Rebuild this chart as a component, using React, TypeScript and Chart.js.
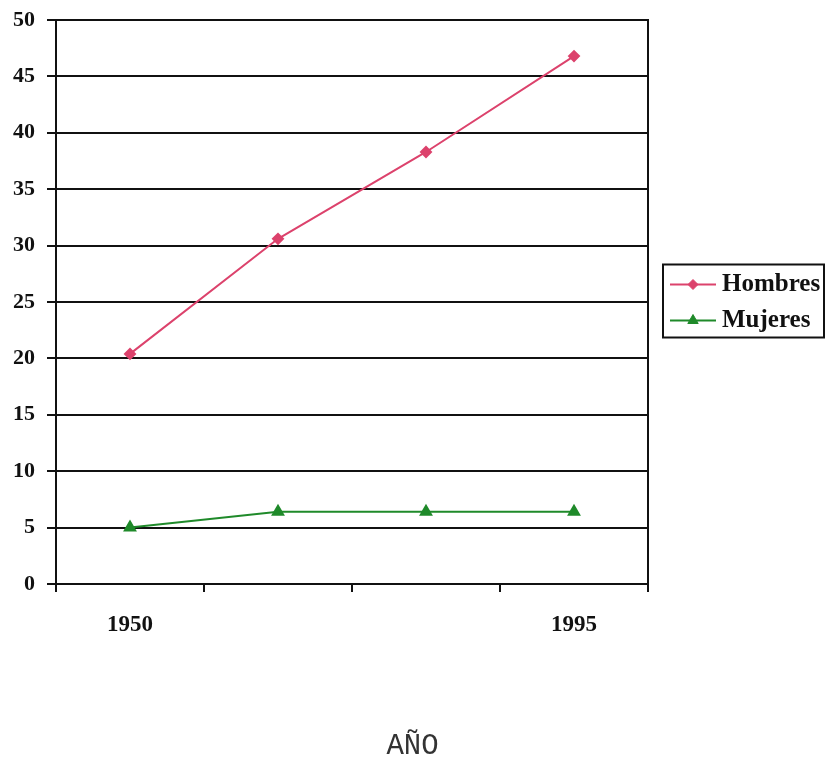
import React, { useEffect, useRef } from 'react';
import { Chart, registerables } from 'chart.js';
import { drawPoint } from 'chart.js/helpers';

Chart.register(...registerables);

// Year labels along the x axis (only the end years are printed)
const years: string[] = ['1950', '', '', '1995'];
// Series values
const hombres: number[] = [20.4, 30.6, 38.3, 46.8];
const mujeres: number[] = [5.0, 6.4, 6.4, 6.4];
// Value axis range
const yMin = 0;
const yMax = 50;
const yStep = 5;

const HOMBRES_COLOR = '#dc426c';
const MUJERES_COLOR = '#1f8a2a';
const INK = '#111111';
const SERIF = '"Liberation Serif", "Times New Roman", serif';

// Right edge of the plot frame
const framePlugin = {
  id: 'frame',
  beforeDatasetsDraw(chart: any) {
    const { ctx, chartArea } = chart;
    ctx.save();
    ctx.strokeStyle = INK;
    ctx.lineWidth = 2;
    ctx.beginPath();
    ctx.moveTo(chartArea.right, chartArea.top - 1);
    ctx.lineTo(chartArea.right, chartArea.bottom);
    ctx.stroke();
    ctx.restore();
  },
};

// Boxed legend to the right of the plot, line + marker per series
const boxedLegend = {
  id: 'boxedLegend',
  afterDraw(chart: any) {
    const { ctx, chartArea } = chart;
    const left = chartArea.right + 15;
    const right = chart.width - 1;
    const rowH = 36;
    const sets = chart.data.datasets;
    const h = rowH * sets.length + 1;
    const cy = (chartArea.top + chartArea.bottom) / 2 - 1;
    const top = cy - h / 2;
    ctx.save();
    ctx.strokeStyle = INK;
    ctx.lineWidth = 2;
    ctx.strokeRect(left, top, right - left, h);
    sets.forEach((ds: any, i: number) => {
      const y = top + rowH / 2 + i * rowH + 2;
      const x0 = left + 7;
      const x1 = left + 53;
      ctx.strokeStyle = ds.borderColor;
      ctx.lineWidth = 2;
      ctx.beginPath();
      ctx.moveTo(x0, y);
      ctx.lineTo(x1, y);
      ctx.stroke();
      ctx.fillStyle = ds.pointBackgroundColor;
      ctx.strokeStyle = ds.pointBorderColor;
      ctx.lineWidth = 1;
      drawPoint(ctx, { pointStyle: ds.pointStyle, radius: ds.pointRadius, borderWidth: 1, rotation: 0 }, (x0 + x1) / 2, y);
      ctx.fillStyle = INK;
      ctx.font = `bold 25px ${SERIF}`;
      ctx.textAlign = 'left';
      ctx.textBaseline = 'middle';
      ctx.fillText(ds.label, x1 + 6, y);
    });
    ctx.restore();
  },
};

export default function App() {
  const canvasRef = useRef<HTMLCanvasElement | null>(null);

  useEffect(() => {
    document.body.style.margin = '0';
    const canvas = canvasRef.current;
    if (!canvas) return;
    const chart = new Chart(canvas, {
      type: 'line',
      data: {
        labels: years,
        datasets: [
          {
            label: 'Hombres',
            data: hombres,
            borderColor: HOMBRES_COLOR,
            backgroundColor: HOMBRES_COLOR,
            pointBackgroundColor: HOMBRES_COLOR,
            pointBorderColor: HOMBRES_COLOR,
            pointStyle: 'rectRot',
            pointRadius: 5,
            borderWidth: 2,
            tension: 0,
          },
          {
            label: 'Mujeres',
            data: mujeres,
            borderColor: MUJERES_COLOR,
            backgroundColor: MUJERES_COLOR,
            pointBackgroundColor: MUJERES_COLOR,
            pointBorderColor: MUJERES_COLOR,
            pointStyle: 'triangle',
            pointRadius: 6,
            borderWidth: 2,
            tension: 0,
            yAxisID: 'y',
          },
        ],
      },
      options: {
        responsive: false,
        animation: false,
        devicePixelRatio: 1,
        layout: { padding: { top: 20, right: 0, left: 0, bottom: 0 } },
        plugins: {
          legend: { display: false },
          tooltip: { enabled: false },
          title: {
            display: true,
            position: 'bottom',
            text: 'AÑO',
            color: '#333333',
            font: { family: '"Liberation Mono", "Courier New", monospace', size: 29, weight: 'normal', lineHeight: 1 },
            padding: { top: 0, bottom: 0 },
          },
        },
        scales: {
          x: {
            offset: true,
            grid: {
              offset: true,
              drawOnChartArea: false,
              drawTicks: true,
              tickLength: 8,
              color: INK,
              lineWidth: 2,
            },
            border: { display: true, color: INK, width: 2 },
            ticks: {
              color: INK,
              padding: 19,
              maxRotation: 0,
              autoSkip: false,
              font: { family: SERIF, size: 23, weight: 'bold' },
            },
            afterFit(scale: any) {
              scale.height = 148;
            },
          },
          y: {
            min: yMin,
            max: yMax,
            grid: {
              color: INK,
              lineWidth: 2,
              drawTicks: true,
              tickLength: 9,
            },
            border: { display: true, color: INK, width: 2 },
            ticks: {
              stepSize: yStep,
              color: INK,
              padding: 12,
              font: { family: SERIF, size: 22, weight: 'bold' },
            },
            afterFit(scale: any) {
              scale.width = 56;
              scale.paddingTop = 0;
              scale.paddingBottom = 0;
            },
          },
          // empty side band that leaves room for the boxed legend
          legendBand: {
            type: 'linear',
            position: 'right',
            display: true,
            grid: { display: false, drawTicks: false },
            border: { display: false },
            ticks: { display: false },
            afterFit(scale: any) {
              scale.width = 177;
            },
          },
        },
      },
      plugins: [framePlugin, boxedLegend],
    } as any);
    return () => chart.destroy();
  }, []);

  return <canvas ref={canvasRef} width={825} height={761} style={{ display: 'block', width: 825, height: 761 }} />;
}
